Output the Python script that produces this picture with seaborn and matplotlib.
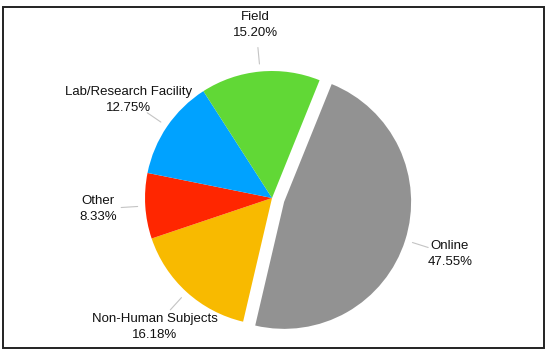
import numpy as np
import seaborn as sns
import matplotlib.pyplot as plt
from matplotlib.patches import Rectangle

sns.set_theme(style="white")
plt.rcParams["font.family"] = ["Liberation Sans", "DejaVu Sans"]

# data (clockwise from the top)
labels = ["Online", "Non-Human Subjects", "Other", "Lab/Research Facility", "Field"]
shares = [47.55, 16.18, 8.33, 12.75, 15.20]
colors = ["#929292", "#F8BA00", "#FF2600", "#00A2FF", "#61D836"]
explode = [0.1, 0, 0, 0, 0]

fig = plt.figure(figsize=(5.5, 3.55), dpi=100)
ax = fig.add_axes([0, 0, 1, 1])

wedges, _ = ax.pie(shares, colors=colors, explode=explode, startangle=68,
                   counterclock=False, wedgeprops=dict(linewidth=0))

# labels + thin leader lines
for w, lab, val in zip(wedges, labels, shares):
    ang = np.deg2rad((w.theta1 + w.theta2) / 2)
    cx, cy = w.center
    ux, uy = np.cos(ang), np.sin(ang)
    ax.plot([cx + 1.06 * ux, cx + 1.19 * ux], [cy + 1.06 * uy, cy + 1.19 * uy],
            color="#c4c4c4", lw=0.8)
    ax.text(cx + 1.37 * ux, cy + 1.37 * uy, f"{lab}\n{val:.2f}%",
            ha="center", va="center", fontsize=9.5, color="#111111",
            linespacing=1.45)

ax.set_aspect("auto")
ax.set_xlim(-2.142, 2.189)
ax.set_ylim(-1.236, 1.559)
ax.axis("off")

# frame around the chart
fig.patches.append(Rectangle((3 / 550, 7 / 355), 541 / 550, 341 / 355,
                             transform=fig.transFigure, fill=False,
                             edgecolor="#222222", lw=1.4))

fig.savefig("out.png", dpi=100)
